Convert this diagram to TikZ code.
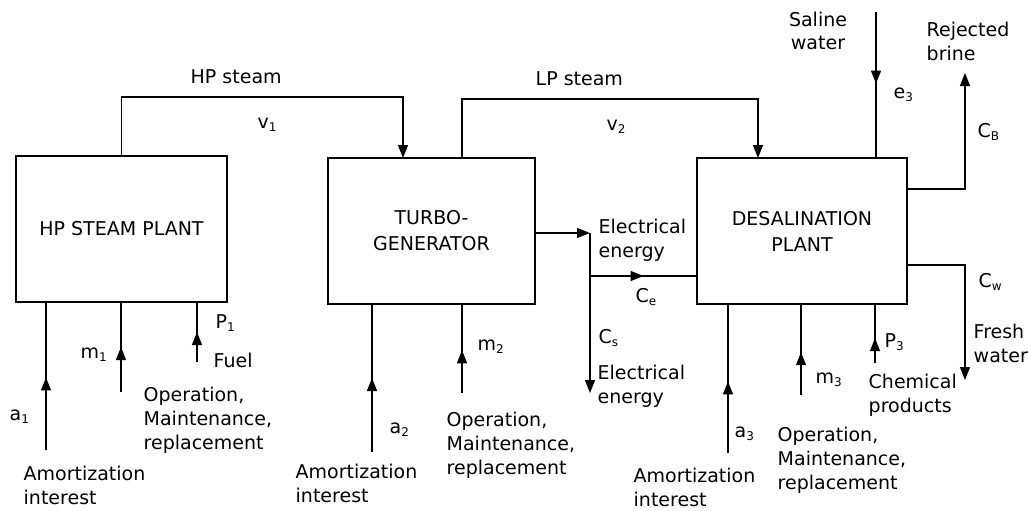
\documentclass[tikz,border=0pt]{standalone}
\usepackage{fontspec}
\setmainfont{DejaVu Sans}
\usetikzlibrary{arrows.meta,decorations.markings}
\newcommand\lsub[1]{\raisebox{-0.35ex}{\fontsize{12}{12}\selectfont #1}}
\begin{document}
\begin{tikzpicture}[x=1pt,y=-1pt,line width=1.4pt,
  font=\fontsize{19}{24}\selectfont,
  box/.style={draw,inner sep=0pt,outer sep=0pt,minimum height=146pt,align=center,font=\fontsize{19}{26}\selectfont},
  lbl/.style={inner sep=0pt,anchor=base west,align=left},
  arr/.style={-{Triangle[length=13pt,width=10pt]}},
  midarr/.style={postaction={decorate},decoration={markings,mark=at position #1 with {\arrow{Triangle[length=13pt,width=10pt]}}}}]
\useasboundingbox (0,0) rectangle (1028,511);
% boxes
\node[box,minimum width=211pt] (hp) at (121.5,229) {HP STEAM PLANT};
\node[box,minimum width=207pt] (tg) at (431.5,231) {TURBO-\\GENERATOR};
\node[box,minimum width=210pt] (dp) at (802,231) {DESALINATION\\PLANT};
% HP steam
\coordinate (hpc) at (403,97);
\draw[arr] (hp.north) |- (hpc) -- (hpc |- tg.north);
% LP steam
\coordinate (lpa) at (462,99);
\coordinate (lpb) at (758,99);
\draw[arr] (lpa |- tg.north) -- (lpa) -- (lpb) -- (lpb |- dp.north);
% electrical energy
\coordinate (ej) at (590,233);
\coordinate (eo) at (590,393);
\coordinate (ec) at (590,276);
\draw[arr] (tg.east |- ej) -- (ej);
\draw[arr] (ej) -- (eo);
\draw[midarr=0.5] (ec) -- (ec -| dp.west);
% saline water
\coordinate (sw) at (876,12);
\draw[midarr=0.49] (sw) -- (sw |- dp.north);
% rejected brine
\coordinate (rb1) at (965,189);
\coordinate (rb2) at (965,73);
\draw[arr] (dp.east |- rb1) -- (rb1) -- (rb2);
% fresh water
\coordinate (fw1) at (965,265);
\coordinate (fw2) at (965,380);
\draw[arr] (dp.east |- fw1) -- (fw1) -- (fw2);
% bottom inputs
\coordinate (a1) at (46,450);
\coordinate (m1) at (121,392);
\coordinate (p1) at (197,362);
\coordinate (a2) at (372,452);
\coordinate (m2) at (462,393);
\coordinate (a3) at (728,453);
\coordinate (m3) at (801,395);
\coordinate (p3) at (875,363);
\draw[midarr=0.49] (a1) -- (a1 |- hp.south);
\draw[midarr=0.50] (m1) -- (m1 |- hp.south);
\draw[midarr=0.50] (p1) -- (p1 |- hp.south);
\draw[midarr=0.50] (a2) -- (a2 |- tg.south);
\draw[midarr=0.48] (m2) -- (m2 |- tg.south);
\draw[midarr=0.48] (a3) -- (a3 |- dp.south);
\draw[midarr=0.47] (m3) -- (m3 |- dp.south);
\draw[midarr=0.42] (p3) -- (p3 |- dp.south);
% labels top (multi-line labels: base = last line)
\node[lbl] (lhps) at (190,83) {HP steam};
\node[lbl] (lv1) at (257,128) {v\lsub{1}};
\node[lbl] (llps) at (535,85) {LP steam};
\node[lbl] (lv2) at (606,130) {v\lsub{2}};
\node[lbl] (lel1) at (598,257) {Electrical\\energy};
\node[lbl] (lce) at (635,302) {C\lsub{e}};
\node[lbl] (lcs) at (598,343) {C\lsub{s}};
\node[lbl] (lel2) at (597,403) {Electrical\\energy};
\node[inner sep=0pt,anchor=base,align=center] (lsal) at (818,50) {Saline\\water};
\node[lbl] (le3) at (893,98) {e\lsub{3}};
\node[lbl] (lrej) at (926,60) {Rejected\\brine};
\node[lbl] (lcb) at (977,137) {C\lsub{B}};
\node[lbl] (lcw) at (978,287) {C\lsub{w}};
\node[lbl] (lfw) at (973,362) {Fresh\\water};
% labels box 3
\node[lbl] (lp3) at (884,347) {P\lsub{3}};
\node[lbl] (lm3) at (815,383) {m\lsub{3}};
\node[lbl] (lchem) at (868,412) {Chemical\\products};
\node[lbl] (la3) at (734,437) {a\lsub{3}};
\node[lbl] (lop3) at (777,489) {Operation,\\Maintenance,\\replacement};
\node[lbl] (lam3) at (633,506) {Amortization\\interest};
% labels box 2
\node[lbl] (la2) at (389,433) {a\lsub{2}};
\node[lbl] (lm2) at (477,350) {m\lsub{2}};
\node[lbl] (lop2) at (446,474) {Operation,\\Maintenance,\\replacement};
\node[lbl] (lam2) at (295,502) {Amortization\\interest};
% labels box 1
\node[lbl] (la1) at (9,420) {a\lsub{1}};
\node[lbl] (lm1) at (80,358) {m\lsub{1}};
\node[lbl] (lp1) at (215,328) {P\lsub{1}};
\node[lbl] (lfuel) at (213,367) {Fuel};
\node[lbl] (lop1) at (143,449) {Operation,\\Maintenance,\\replacement};
\node[lbl] (lam1) at (23,504) {Amortization\\interest};
\end{tikzpicture}
\end{document}
